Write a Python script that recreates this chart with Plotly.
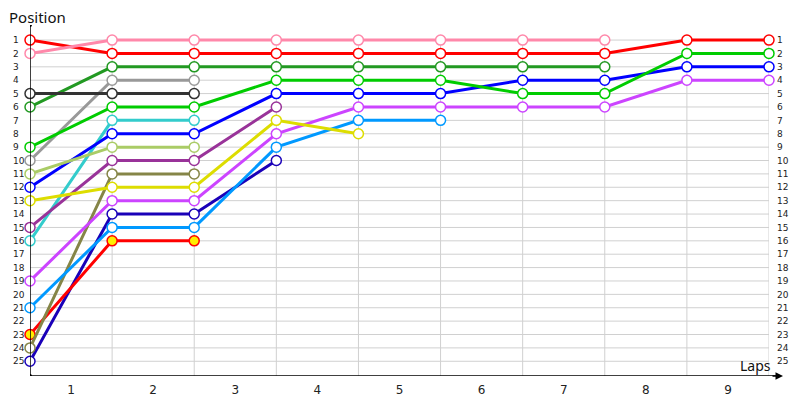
import plotly.graph_objects as go

laps = [0, 1, 2, 3, 4, 5, 6, 7, 8, 9]
lap_labels = ["1", "2", "3", "4", "5", "6", "7", "8", "9"]
positions = list(range(1, 26))

red = [1, 2, 2, 2, 2, 2, 2, 2, 1, 1]
pink = [2, 1, 1, 1, 1, 1, 1, 1, None, None]
black = [5, 5, 5]
dark_green = [6, 3, 3, 3, 3, 3, 3, 3]
green = [9, 6, 6, 4, 4, 4, 5, 5, 2, 2]
gray = [10, 4, 4]
light_green = [11, 9, 9]
blue = [12, 8, 8, 5, 5, 5, 4, 4, 3, 3]
yellow = [13, 12, 12, 7, 8]
purple = [15, 10, 10, 6]
cyan = [16, 7, 7]
magenta = [19, 13, 13, 8, 6, 6, 6, 6, 4, 4]
light_blue = [21, 15, 15, 9, 7, 7]
red_yellow = [23, 16, 16]
olive = [24, 11, 11]
navy = [25, 14, 14, 10]

series = [
    (navy, "#1a00b8", "white"),
    (red_yellow, "#ff0000", "#ffee00"),
    (olive, "#858547", "white"),
    (light_blue, "#0099ff", "white"),
    (magenta, "#cc44ff", "white"),
    (cyan, "#33cccc", "white"),
    (purple, "#993399", "white"),
    (yellow, "#dddd00", "white"),
    (blue, "#0000ff", "white"),
    (light_green, "#aacc66", "white"),
    (gray, "#999999", "white"),
    (green, "#00cc00", "white"),
    (dark_green, "#229922", "white"),
    (black, "#333333", "white"),
    (red, "#ff0000", "white"),
    (pink, "#ff88aa", "white"),
]

Y_TOP = -0.125
Y_BOT = 26.1
PLOT_W = 761.0
X_DOM0 = 22 / PLOT_W

fig = go.Figure()
for vals, col, fill in series:
    fig.add_trace(go.Scatter(
        x=laps[:len(vals)], y=vals, mode="lines+markers",
        line=dict(color=col, width=3),
        marker=dict(symbol="circle", size=10, color=fill,
                    line=dict(color=col, width=1.5)),
        showlegend=False, hoverinfo="skip", cliponaxis=False,
    ))
fig.add_trace(go.Scatter(x=[None], y=[None], yaxis="y2", showlegend=False))
fig.add_trace(go.Scatter(x=[None], y=[None], yaxis="y3", showlegend=False))

shapes = []
for p in positions:
    shapes.append(dict(type="line", xref="x", yref="y", x0=laps[0], x1=laps[-1],
                       y0=p, y1=p, line=dict(color="#d0d0d0", width=1), layer="below"))
for l in laps[1:]:
    shapes.append(dict(type="line", xref="x", yref="y", x0=l, x1=l,
                       y0=positions[0], y1=Y_BOT, line=dict(color="#d0d0d0", width=1), layer="below"))
# axes
shapes.append(dict(type="line", xref="x", yref="y", x0=0, x1=0, y0=Y_TOP, y1=Y_BOT,
                   line=dict(color="black", width=1.5)))
shapes.append(dict(type="line", xref="paper", yref="y", x0=X_DOM0, x1=1.0145, y0=Y_BOT, y1=Y_BOT,
                   line=dict(color="black", width=1.5)))
for yy in (Y_TOP, Y_BOT):
    shapes.append(dict(type="circle", xref="x", yref="y", xsizemode="pixel", ysizemode="pixel",
                       xanchor=0, yanchor=yy, x0=-2, x1=2, y0=-2, y1=2,
                       fillcolor="black", line=dict(color="black", width=0)))

font_lbl = dict(family="DejaVu Sans", size=9, color="#222222")
ytext = [str(p) for p in positions]

fig.update_layout(
    width=792, height=392,
    margin=dict(l=0, r=31, t=17, b=24, autoexpand=False),
    paper_bgcolor="white", plot_bgcolor="white",
    showlegend=False,
    shapes=shapes,
    xaxis=dict(domain=[X_DOM0, 1], range=[0, 9], showgrid=False, zeroline=False, showline=False,
               automargin=False,
               tickvals=[l + 0.5 for l in laps[:-1]], ticktext=lap_labels,
               ticks="", tickfont=dict(family="DejaVu Sans", size=12, color="#222222"),
               ticklabelstandoff=5),
    yaxis=dict(range=[Y_BOT, Y_TOP], showgrid=False, zeroline=False, showline=False, automargin=False,
               showticklabels=False, ticks=""),
    yaxis2=dict(range=[Y_BOT, Y_TOP], overlaying="y", side="right", anchor="x", automargin=False,
                showgrid=False, zeroline=False, showline=False,
                tickvals=positions, ticktext=ytext, ticks="",
                tickfont=font_lbl, ticklabelstandoff=7),
    yaxis3=dict(range=[Y_BOT, Y_TOP], overlaying="y", side="right", anchor="free", position=0,
                automargin=False, showgrid=False, zeroline=False, showline=False,
                tickvals=positions, ticktext=ytext, ticks="",
                tickfont=font_lbl, ticklabelstandoff=4),
    annotations=[
        dict(text="Position", xref="paper", yref="paper", x=0.0, y=1.023,
             xanchor="left", yanchor="middle", showarrow=False, borderpad=0,
             font=dict(family="Noto Sans", size=15, color="#111111")),
        dict(text="Laps", xref="paper", yref="paper", x=1.005, y=-0.003,
             xanchor="right", yanchor="bottom", showarrow=False,
             font=dict(family="Noto Sans", size=14, color="#111111")),
        dict(text="", xref="paper", yref="y", x=1.0184, y=Y_BOT, ax=-12, ay=0,
             showarrow=True, arrowhead=2, arrowsize=1, arrowwidth=1.5, arrowcolor="black"),
    ],
)

fig.write_html("out.html")
